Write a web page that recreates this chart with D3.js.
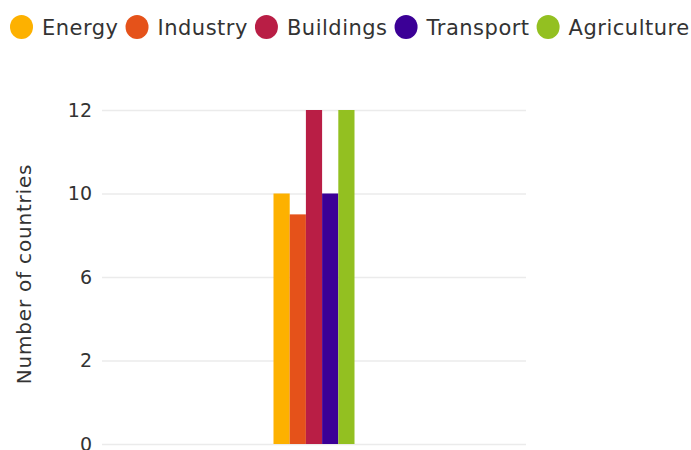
<!DOCTYPE html>
<html>
<head>
<meta charset="utf-8">
<script src="https://cdn.jsdelivr.net/npm/d3@7"></script>
<style>
  html, body { margin: 0; padding: 0; background: #fff; }
  svg { display: block; font-family: "DejaVu Sans", "Open Sans", sans-serif; }
</style>
</head>
<body>
<svg id="chart" width="691" height="450"></svg>
<script>
// Sectors and the number of countries covering each one
const groups = ["Countries"];
const sectors = ["Energy", "Industry", "Buildings", "Transport", "Agriculture"];
const counts = [10, 9, 12, 10, 12];
const colors = ["#FDB100", "#E5521A", "#B91E45", "#3B0096", "#93C021"];
const yTicks = [0, 2, 6, 10, 12];

const svg = d3.select("#chart");
const plot = { left: 102, right: 526, top: 110, bottom: 444 };

// Axis ticks are spaced evenly, so the value scale is piecewise linear
const tickPos = d3.range(yTicks.length).map(i =>
  plot.bottom - i * (plot.bottom - plot.top) / (yTicks.length - 1));
const y = d3.scaleLinear().domain(yTicks).range(tickPos);

const x0 = d3.scaleBand().domain(groups).range([plot.left, plot.right])
  .paddingInner(0).paddingOuter(2.117);
const x1 = d3.scaleBand().domain(sectors).range([0, x0.bandwidth()]).padding(0);
const color = d3.scaleOrdinal().domain(sectors).range(colors);

// Gridlines and tick labels
const yAxis = d3.axisLeft(y).tickValues(yTicks).tickSize(-(plot.right - plot.left))
  .tickPadding(10).tickFormat(d3.format("d"));
const ga = svg.append("g").attr("transform", `translate(${plot.left},0)`).call(yAxis);
ga.select(".domain").remove();
ga.selectAll(".tick line").attr("stroke", "#ebebeb").attr("stroke-width", 1.5);
ga.selectAll(".tick text").attr("fill", "#333").attr("font-size", 19)
  .attr("font-family", "DejaVu Sans, sans-serif");

// Axis title
svg.append("text")
  .attr("transform", `translate(31,274) rotate(-90)`)
  .attr("text-anchor", "middle").attr("fill", "#333").attr("font-size", 20)
  .attr("letter-spacing", 0.8)
  .text("Number of countries");

// Bars
const rows = sectors.map((s, i) => ({ sector: s, value: counts[i] }));
svg.append("g").selectAll("g").data(groups).join("g")
  .attr("transform", d => `translate(${x0(d)},0)`)
  .selectAll("rect").data(rows).join("rect")
  .attr("x", d => x1(d.sector))
  .attr("width", x1.bandwidth())
  .attr("y", d => y(d.value))
  .attr("height", d => y(0) - y(d.value))
  .attr("fill", d => color(d.sector));

// Legend
const legend = svg.append("g").attr("transform", "translate(0,27)");
let lx = 10;
sectors.forEach(s => {
  const item = legend.append("g").attr("transform", `translate(${lx},0)`);
  item.append("ellipse").attr("cx", 11.5).attr("cy", 0).attr("rx", 11.5).attr("ry", 12)
    .attr("fill", color(s));
  const t = item.append("text").attr("x", 32).attr("y", 7.5).attr("font-size", 21)
    .attr("letter-spacing", 0.5).attr("fill", "#333").text(s);
  lx += 32 + t.node().getComputedTextLength() + 7;
});
</script>
</body>
</html>
